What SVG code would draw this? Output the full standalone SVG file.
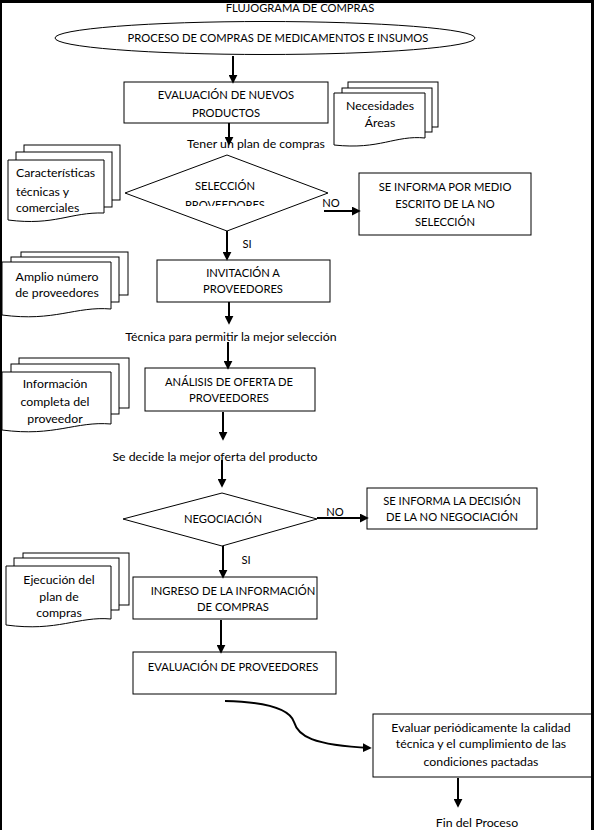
<svg xmlns="http://www.w3.org/2000/svg" width="594" height="830" viewBox="0 0 594 830">
<style>
.t{font-family:Lato,"Liberation Sans",sans-serif;font-size:11.2px;fill:#000;text-anchor:middle}
.s{font-size:12.3px}
.l{text-anchor:start}
.b{fill:#fff;stroke:#000;stroke-width:1}
.c{stroke:#000;stroke-width:2;fill:none;marker-end:url(#ah)}
</style>
<defs>
<marker id="ah" viewBox="0 0 10 10" refX="8" refY="5" markerWidth="4.5" markerHeight="4.5" orient="auto" markerUnits="strokeWidth"><path d="M0,0 L10,5 L0,10 z" fill="#000"/></marker>
<clipPath id="clipSel"><rect x="0" y="150" width="594" height="56"/></clipPath>
</defs>
<rect width="594" height="830" fill="#fff"/>

<text class="t" x="300" y="12">FLUJOGRAMA DE COMPRAS</text>

<g id="inicio">
<ellipse class="b" cx="265" cy="38" rx="210" ry="16.5"/>
<text class="t" x="278" y="42">PROCESO DE COMPRAS DE MEDICAMENTOS E INSUMOS</text>
</g>

<g id="evaluacion-nuevos">
<rect class="b" x="124" y="82" width="204" height="41"/>
<text class="t" x="226" y="99">EVALUACIÓN DE NUEVOS</text>
<text class="t" x="226" y="117">PRODUCTOS</text>
</g>

<g id="necesidades">
<rect class="b" x="348" y="82" width="90" height="45"/>
<rect class="b" x="342" y="88" width="90" height="44"/>
<path class="b" d="M334,93 H425 V138 C395,135 380,150 334,145 Z"/>
<text class="t s" x="380" y="110">Necesidades</text>
<text class="t s" x="380" y="127">Áreas</text>
</g>

<text class="t s" x="256" y="148">Tener un plan de compras</text>

<g id="caracteristicas">
<rect class="b" x="24" y="145" width="96" height="55"/>
<rect class="b" x="16" y="152" width="96" height="55"/>
<path class="b" d="M8,160 H104 V213 C70,212 55,226 8,220 Z"/>
<text class="t s l" x="16" y="177">Características</text>
<text class="t s l" x="16" y="196">técnicas y</text>
<text class="t s l" x="16" y="212">comerciales</text>
</g>

<g id="seleccion">
<polygon class="b" points="125,193 227,155 328,193 227,231"/>
<text class="t" x="225" y="190">SELECCIÓN</text>
<text class="t" x="225" y="209" clip-path="url(#clipSel)">PROVEEDORES</text>
</g>

<g id="informa-no-seleccion">
<rect class="b" x="359" y="173" width="172" height="62"/>
<text class="t" x="445" y="191">SE INFORMA POR MEDIO</text>
<text class="t" x="445" y="208">ESCRITO DE LA NO</text>
<text class="t" x="445" y="226">SELECCIÓN</text>
</g>

<g id="amplio">
<rect class="b" x="21" y="252" width="107" height="43"/>
<rect class="b" x="11" y="257" width="108" height="45"/>
<path class="b" d="M2,262 H111 V309 C75,306 55,322 2,315 Z"/>
<text class="t s" x="57" y="281">Amplio número</text>
<text class="t s" x="57" y="297">de proveedores</text>
</g>

<g id="invitacion">
<rect class="b" x="157" y="260" width="173" height="42"/>
<text class="t" x="243" y="277">INVITACIÓN A</text>
<text class="t" x="243" y="293">PROVEEDORES</text>
</g>

<text class="t s" x="231" y="341">Técnica para permitir la mejor selección</text>

<g id="informacion">
<rect class="b" x="19" y="358" width="110" height="50"/>
<rect class="b" x="11" y="364" width="108" height="50"/>
<path class="b" d="M2,372 H111 V424 C75,421 55,437 2,430 Z"/>
<text class="t s" x="55" y="388">Información</text>
<text class="t s" x="55" y="406">completa del</text>
<text class="t s" x="55" y="423">proveedor</text>
</g>

<g id="analisis">
<rect class="b" x="145" y="368" width="170" height="43"/>
<text class="t" x="229" y="386">ANÁLISIS DE OFERTA DE</text>
<text class="t" x="229" y="402">PROVEEDORES</text>
</g>

<text class="t s" x="215" y="461">Se decide la mejor oferta del producto</text>

<g id="negociacion">
<polygon class="b" points="123,519 222,493 317,519 222,546"/>
<text class="t" x="223" y="523">NEGOCIACIÓN</text>
</g>

<g id="informa-no-negociacion">
<rect class="b" x="367" y="488" width="170" height="41"/>
<text class="t" x="452" y="505">SE INFORMA LA DECISIÓN</text>
<text class="t" x="452" y="521">DE LA NO NEGOCIACIÓN</text>
</g>

<g id="ejecucion">
<rect class="b" x="23" y="553" width="106" height="52"/>
<rect class="b" x="14" y="558" width="105" height="52"/>
<path class="b" d="M6,566 H111 V619 C78,616 58,632 6,625 Z"/>
<text class="t s" x="59" y="584">Ejecución del</text>
<text class="t s" x="59" y="601">plan de</text>
<text class="t s" x="59" y="617">compras</text>
</g>

<g id="ingreso">
<rect class="b" x="133" y="577" width="184" height="42"/>
<text class="t" x="233" y="595">INGRESO DE LA INFORMACIÓN</text>
<text class="t" x="233" y="611">DE COMPRAS</text>
</g>

<g id="evaluacion-proveedores">
<rect class="b" x="133" y="652" width="203" height="42"/>
<text class="t" x="233" y="671">EVALUACIÓN DE PROVEEDORES</text>
</g>

<g id="evaluar">
<rect class="b" x="373" y="714" width="225" height="63"/>
<text class="t s" x="481" y="732">Evaluar periódicamente la calidad</text>
<text class="t s" x="481" y="748">técnica y el cumplimiento de las</text>
<text class="t s" x="481" y="766">condiciones pactadas</text>
</g>

<text class="t s" x="477" y="827">Fin del Proceso</text>

<g id="connectors">
<path class="c" d="M233,56 V82"/>
<path class="c" d="M229,123 V144"/>
<path class="c" d="M324,211 H359"/>
<path class="c" d="M227,231 V259"/>
<path class="c" d="M229,302 V323"/>
<path class="c" d="M228,342 V368"/>
<path class="c" d="M223,412 V439"/>
<path class="c" d="M222,460 V486"/>
<path class="c" d="M317,518 H367"/>
<path class="c" d="M223,546 V577"/>
<path class="c" d="M221,620 V652"/>
<path class="c" d="M225,701 C270,702 290,710 294,722 C298,736 312,745 370,748" stroke-width="2.5"/>
<path class="c" d="M458,778 V806"/>
</g>
<text class="t" x="331" y="207">NO</text>
<text class="t" x="247" y="248">SI</text>
<text class="t" x="335" y="516">NO</text>
<text class="t" x="246" y="564">SI</text>

<g id="frame" fill="#000">
<rect x="0" y="0" width="594" height="3"/>
<rect x="0" y="0" width="2" height="830"/>
<rect x="591" y="0" width="3" height="830"/>
</g>
</svg>
